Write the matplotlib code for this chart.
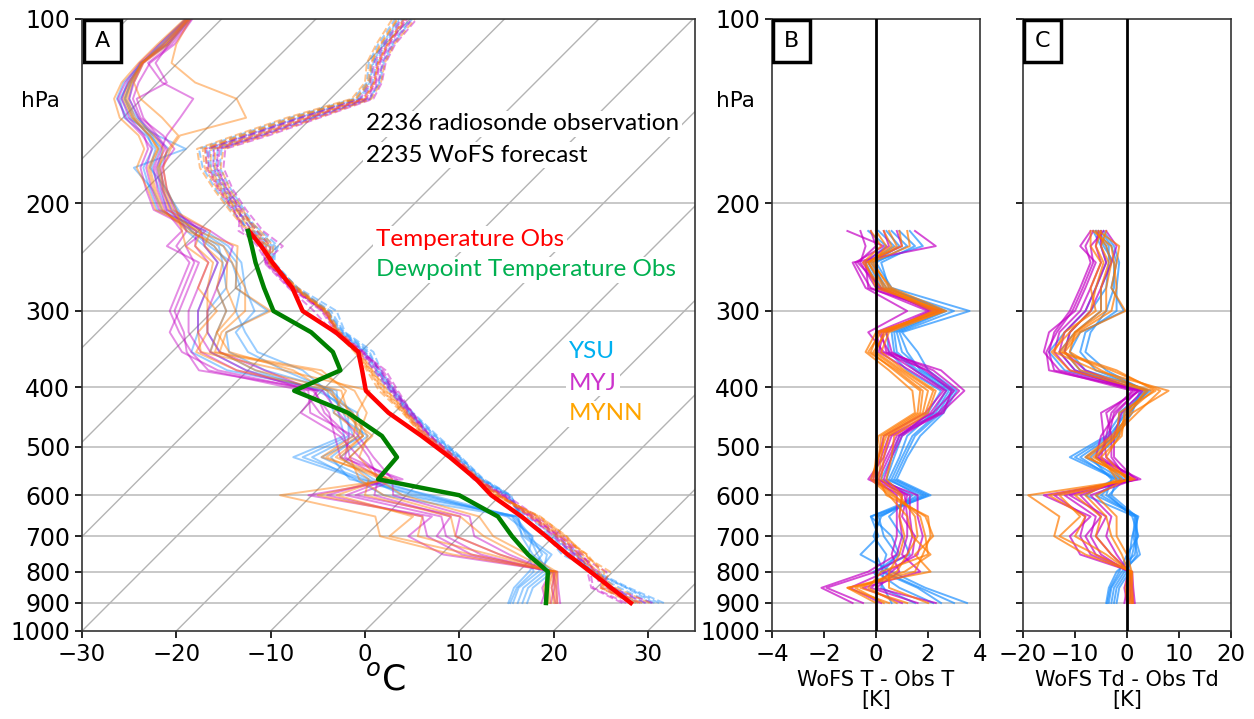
import numpy as np
import matplotlib
matplotlib.use('Agg')
import matplotlib.pyplot as plt
from matplotlib.patches import Rectangle

# ---------------- data ----------------
# pressure levels (hPa) shared by observation and member differences
levels = [900, 850, 800, 750, 700, 650, 600, 565, 520, 480, 440, 405, 375, 350, 325, 300, 275, 250, 235, 222]
# levels above the top of the radiosonde (forecast only)
upper_levels = [205, 190, 175, 163, 155, 145, 135, 127, 118, 110, 100]

# observations, read as positions on the skew-T temperature axis (deg C)
obs_T_skew = [28.2, 26.1, 23.9, 21.5, 19.2, 16.6, 13.4, 11.8, 9.0, 6.0, 2.5, 0.1, -0.3, -0.7, -3.1, -6.6, -7.7, -9.8, -11.0, -12.3]
obs_Td_skew = [19.2, 19.3, 19.4, 17.3, 15.6, 14.1, 10.0, 1.4, 3.4, 1.8, -1.8, -7.5, -2.6, -3.4, -5.7, -9.7, -10.7, -11.6, -12.0, -12.4]

schemes = ['YSU', 'MYJ', 'MYNN']
scheme_colors = {'YSU': '#1e90ff', 'MYJ': '#c400c4', 'MYNN': '#ff7a00'}
label_colors = {'YSU': '#00b0f0', 'MYJ': '#cc33cc', 'MYNN': '#ffa500'}

# WoFS T - Obs T [K] per member
dT_YSU = [
    [3.5, 1.9, 0.6, -0.6, 0.1, -0.2, 2.1, 0.8, 1.2, 1.7, 2.6, 3.1, 2.0, 1.6, 1.0, 3.6, 0.6, 0.0, 1.2, 0.6],
    [3.0, 1.7, 0.3, 0.0, 0.0, 0.0, 1.9, 0.6, 1.0, 1.4, 2.4, 2.9, 1.8, 1.0, 0.8, 2.7, 0.4, -0.2, 1.8, 1.3],
    [2.5, 1.6, 0.2, 0.4, -0.1, 0.2, 1.6, 0.5, 0.9, 1.2, 2.2, 2.7, 1.5, 0.7, 0.6, 2.4, 0.2, -0.3, 0.7, 0.1],
    [2.2, 0.9, 0.0, 0.9, 0.6, -0.2, 1.8, 0.4, 0.7, 1.0, 2.0, 2.5, 1.2, 0.5, 0.4, 2.3, 0.1, -0.4, 0.4, -0.3],
    [0.6, 0.3, -0.1, 1.3, 1.0, 0.5, 1.4, 0.2, 0.6, 0.9, 2.3, 2.8, 1.6, 0.8, 0.7, 2.6, 0.5, 0.2, 1.5, 0.9],
    [1.5, 0.2, 0.3, 0.8, 0.3, 0.1, 2.0, 0.7, 1.1, 1.5, 2.5, 3.0, 1.7, 1.2, 0.9, 3.0, 0.3, -0.1, 0.9, 0.4],
]
dT_MYJ = [
    [-0.9, -2.1, -0.3, 0.8, 1.0, 0.9, 1.0, -0.3, 0.3, 0.6, 2.5, 3.4, 2.5, 0.3, -0.3, 1.2, -0.4, -0.9, 2.3, 1.5],
    [-0.5, -1.9, 0.0, 1.2, 1.4, 1.3, 1.3, -0.2, 0.2, 0.5, 2.2, 3.0, 2.0, 0.2, 0.0, 2.0, -0.2, -0.8, 0.3, -1.1],
    [0.2, -1.0, 0.4, 1.6, 1.8, 1.6, 1.6, 0.0, 0.4, 0.8, 2.6, 2.9, 1.9, 0.6, 0.4, 2.2, 0.0, -0.6, -0.4, -0.6],
    [1.0, -0.5, 1.7, 1.0, 1.2, 1.2, 1.1, 0.1, 0.5, 0.9, 2.1, 2.7, 1.5, 0.4, 0.2, 2.4, 0.1, -0.5, 0.5, 0.3],
    [2.3, 0.0, 0.9, 0.6, 0.8, 0.8, 0.8, -0.1, 0.1, 0.3, 1.9, 2.6, 1.3, 0.1, 0.3, 2.1, 0.2, -0.7, 0.0, -0.2],
    [1.6, -0.2, 0.6, 1.4, 1.5, 1.0, 1.2, 0.3, 0.6, 1.0, 2.4, 3.2, 2.2, 0.5, 0.1, 2.5, -0.3, -0.4, 1.0, 0.8],
]
dT_MYNN = [
    [0.0, -1.1, 2.1, 1.5, 2.2, 1.9, 0.6, -0.1, 0.0, 0.1, 1.5, 1.4, 0.5, -0.4, 0.0, 2.5, 0.4, -0.3, 0.6, 0.3],
    [0.5, -1.1, 1.5, 1.8, 2.1, 2.0, 0.4, 0.1, 0.2, 0.3, 1.7, 1.8, 0.8, -0.3, 0.2, 2.7, 0.6, -0.2, 1.3, 1.2],
    [1.2, -0.6, 0.8, 1.2, 1.6, 1.5, 0.9, 0.2, 0.3, 0.5, 1.9, 2.2, 1.0, 0.0, 0.3, 2.2, 0.2, -0.5, 0.2, -0.2],
    [0.8, -0.3, 0.2, 2.0, 1.9, 1.7, 0.7, 0.0, 0.1, 0.2, 1.6, 1.7, 0.7, -0.2, 0.1, 2.4, 0.3, -0.3, 0.8, 0.5],
    [2.0, 0.5, 0.5, 0.9, 1.1, 0.9, 1.0, 0.4, 0.6, 0.7, 2.0, 2.3, 1.1, 0.2, 0.5, 2.6, 0.0, -0.4, 1.0, 0.9],
    [0.3, -0.8, 1.1, 2.1, 1.4, 1.2, 0.5, -0.2, 0.1, 0.4, 1.8, 2.0, 0.9, -0.1, 0.4, 2.3, 0.5, -0.1, 0.4, 0.0],
]

# WoFS Td - Obs Td [K] per member
dTd_YSU = [
    [-4.0, -3.5, -2.0, 1.5, 2.0, 1.8, -3.0, -2.0, -11.0, -4.0, -1.0, 4.5, -8.0, -11.0, -9.0, -0.6, -3.0, -2.0, -3.0, -5.0],
    [-3.5, -3.0, -1.0, 2.5, 1.5, 2.0, -5.0, -1.5, -10.0, -3.5, 0.0, 3.0, -10.0, -13.0, -10.0, -5.0, -5.0, -3.0, -4.0, -6.0],
    [-3.0, -2.5, -0.5, 2.0, 1.2, 1.5, -8.0, -2.5, -9.0, -3.0, -0.5, 3.8, -12.0, -15.0, -12.0, -8.0, -6.0, -4.0, -5.0, -6.5],
    [-2.5, -2.0, 0.0, 1.0, 1.8, 1.6, -4.0, -3.0, -7.0, -2.5, 0.5, 4.0, -6.0, -9.0, -8.0, -2.0, -2.0, -1.5, -2.5, -4.5],
    [-2.0, -1.5, 0.5, 0.5, 1.0, 2.2, -6.0, -1.0, -8.0, -2.0, 1.0, 2.5, -9.0, -12.0, -11.0, -7.0, -4.0, -3.5, -3.5, -5.5],
    [-3.8, -3.2, -1.5, 0.0, 2.2, 1.0, -3.5, -0.5, -6.0, -1.5, -1.5, 3.5, -4.0, -8.0, -7.0, -4.0, -2.5, -2.5, -4.5, -6.0],
]
dTd_MYJ = [
    [1.5, 1.2, 1.0, -9.0, -11.0, -7.0, -16.0, 2.6, -6.0, -5.0, -2.0, 2.0, -13.0, -16.0, -15.0, -10.0, -8.0, -6.0, -9.0, -7.0],
    [0.5, 0.8, 0.5, -3.0, -6.0, -4.0, -11.0, 2.0, -5.0, -4.0, -3.0, 1.0, -14.0, -15.0, -14.0, -11.0, -9.0, -7.0, -8.0, -6.5],
    [-0.5, 0.0, 0.2, -5.0, -7.0, -6.0, -12.0, 1.0, -4.0, -4.5, -5.0, 2.5, -11.0, -14.0, -13.0, -9.0, -7.0, -5.0, -6.0, -5.5],
    [1.0, 0.5, 0.8, -6.0, -8.0, -5.0, -9.0, 0.0, -3.0, -3.0, -4.0, 1.5, -10.0, -13.0, -12.0, -8.0, -6.0, -4.0, -5.0, -5.0],
    [0.0, -0.5, 0.3, -2.0, -4.0, -3.0, -7.0, 1.5, -2.5, -2.5, -1.0, 3.0, -15.0, -15.5, -13.5, -10.5, -8.5, -6.5, -7.0, -4.5],
    [1.2, 1.0, 0.6, -7.0, -9.0, -8.0, -14.0, 0.5, -5.5, -3.5, -2.5, 2.2, -8.0, -12.0, -11.0, -7.0, -5.0, -3.0, -2.0, -4.0],
]
dTd_MYNN = [
    [1.2, 1.0, 1.0, -8.0, -14.0, -13.0, -19.0, 1.5, -8.0, -3.0, 1.0, 8.0, -6.0, -14.0, -12.0, -6.0, -7.0, -5.0, -7.0, -7.0],
    [0.8, 0.5, 0.8, -6.0, -13.0, -9.0, -13.0, 0.5, -7.5, -2.5, 2.0, 6.4, -3.0, -13.0, -10.0, -4.0, -4.0, -3.0, -4.0, -6.0],
    [0.3, 0.0, 0.5, -3.0, -6.0, -5.0, -10.0, -1.0, -6.0, -2.0, 0.0, 5.0, -9.0, -12.0, -9.0, -0.3, -3.0, -2.0, -1.5, -5.5],
    [0.0, -0.3, 0.3, -1.0, -3.0, -4.0, -8.0, -2.0, -5.0, -1.0, -0.5, 4.0, -11.0, -14.5, -11.0, -7.0, -6.0, -4.5, -6.0, -5.0],
    [1.0, 0.8, 0.9, 0.0, -2.0, -2.0, -6.0, 0.0, -4.0, -1.5, 0.5, 3.5, -5.0, -11.0, -10.0, -5.0, -5.0, -3.5, -5.0, -4.0],
    [0.5, 0.2, 0.6, -4.0, -10.0, -8.0, -15.0, 1.0, -6.5, -2.0, -1.5, 5.5, -2.0, -12.5, -9.5, -3.0, -2.0, -2.5, -3.0, -6.5],
]

# forecast temperature above the radiosonde top (skew-T axis position, deg C)
upT_YSU = [
    [-13.0, -14.6, -15.8, -15.6, -11.0, -5.5, 0.6, 1.5, 1.8, 2.8, 4.8],
    [-13.8, -15.2, -16.5, -16.8, -12.5, -7.0, -0.6, 0.5, 0.9, 1.8, 3.6],
    [-14.2, -15.8, -17.2, -17.6, -13.5, -8.0, -1.2, 0.2, 0.4, 1.4, 3.2],
    [-13.4, -14.8, -16.0, -16.1, -12.2, -6.8, -0.4, 0.8, 1.2, 2.1, 4.0],
    [-12.8, -14.2, -15.4, -15.2, -11.2, -5.6, 0.4, 1.6, 2.0, 3.0, 5.0],
    [-13.6, -15.0, -16.3, -16.5, -12.8, -7.2, -0.8, 0.4, 0.8, 1.9, 3.7],
]
upT_MYJ = [
    [-12.6, -14.0, -15.0, -14.8, -10.2, -4.8, 0.9, 1.8, 2.2, 3.2, 5.5],
    [-13.2, -14.6, -15.7, -15.6, -11.0, -5.8, 0.2, 1.2, 1.6, 2.6, 4.5],
    [-13.9, -15.4, -16.6, -16.6, -12.3, -6.6, -0.2, 0.9, 1.3, 2.3, 4.2],
    [-13.5, -14.9, -16.1, -16.0, -11.6, -6.0, 0.1, 1.1, 1.5, 2.5, 4.4],
    [-14.0, -15.5, -16.8, -16.9, -12.6, -7.0, -0.5, 0.6, 1.0, 2.0, 3.9],
    [-13.1, -14.5, -15.6, -15.4, -10.8, -5.2, 0.5, 1.4, 1.9, 2.9, 5.0],
]
upT_MYNN = [
    [-13.7, -15.3, -16.7, -17.0, -13.0, -7.5, -1.0, 0.3, 0.6, 1.6, 3.4],
    [-13.3, -14.7, -15.9, -15.9, -11.4, -6.0, 0.0, 1.0, 1.4, 2.4, 4.3],
    [-14.4, -16.0, -17.5, -17.8, -13.8, -8.3, -1.4, 0.0, 0.2, 1.2, 2.9],
    [-12.9, -14.3, -15.3, -15.0, -10.5, -5.0, 0.7, 1.7, 2.1, 3.1, 5.3],
    [-13.6, -15.1, -16.4, -16.3, -11.8, -6.3, -0.1, 1.0, 1.4, 2.4, 4.1],
    [-14.1, -15.6, -17.0, -17.2, -13.2, -7.7, -0.9, 0.5, 0.7, 1.7, 3.5],
]
# forecast dewpoint above the radiosonde top
upTd_YSU = [
    [-20.5, -21.5, -22.0, -21.5, -22.8, -24.8, -25.8, -25.2, -23.8, -21.0, -18.6],
    [-21.5, -22.5, -24.5, -19.0, -22.0, -25.2, -26.3, -25.6, -23.6, -21.4, -18.8],
    [-20.0, -21.0, -22.8, -22.2, -23.2, -25.5, -26.0, -25.0, -23.6, -21.8, -19.0],
    [-22.0, -22.8, -23.5, -22.5, -23.0, -24.5, -25.5, -24.8, -23.7, -21.2, -18.7],
    [-21.0, -21.8, -22.6, -21.8, -22.6, -24.0, -25.0, -24.6, -23.6, -21.6, -18.9],
    [-19.8, -21.2, -21.8, -20.8, -22.4, -24.2, -25.4, -24.9, -23.8, -20.8, -18.5],
]
upTd_MYJ = [
    [-21.2, -22.0, -22.4, -21.6, -21.0, -19.6, -18.2, -21.5, -23.0, -20.5, -18.4],
    [-20.6, -21.4, -21.6, -20.2, -21.4, -23.8, -24.6, -24.0, -22.8, -20.2, -18.3],
    [-22.4, -23.2, -23.8, -23.0, -23.4, -25.0, -25.8, -25.1, -23.6, -21.4, -18.8],
    [-20.2, -21.0, -21.4, -21.0, -22.0, -23.5, -24.2, -21.0, -22.2, -20.8, -18.6],
    [-21.8, -22.6, -23.2, -22.6, -23.6, -25.4, -26.2, -25.4, -23.9, -21.8, -19.0],
    [-21.0, -21.6, -22.2, -21.2, -22.2, -24.0, -25.0, -24.5, -23.5, -21.0, -18.7],
]
upTd_MYNN = [
    [-20.0, -21.0, -21.4, -20.6, -19.6, -12.6, -13.6, -18.0, -20.5, -20.0, -18.5],
    [-21.6, -22.4, -23.0, -22.0, -22.8, -24.6, -25.4, -24.8, -23.6, -21.2, -18.8],
    [-20.8, -21.4, -22.0, -20.8, -19.8, -21.5, -23.8, -24.5, -23.5, -20.8, -18.6],
    [-22.2, -23.0, -24.2, -23.4, -24.0, -26.0, -26.6, -25.8, -24.0, -22.0, -19.1],
    [-20.4, -21.2, -21.8, -21.4, -22.4, -24.4, -25.2, -24.7, -23.7, -21.1, -18.7],
    [-21.4, -22.2, -22.8, -21.9, -22.9, -24.7, -25.6, -25.0, -23.7, -21.5, -18.9],
]

dT = {'YSU': dT_YSU, 'MYJ': dT_MYJ, 'MYNN': dT_MYNN}
dTd = {'YSU': dTd_YSU, 'MYJ': dTd_MYJ, 'MYNN': dTd_MYNN}
upT = {'YSU': upT_YSU, 'MYJ': upT_MYJ, 'MYNN': upT_MYNN}
upTd = {'YSU': upTd_YSU, 'MYJ': upTd_MYJ, 'MYNN': upTd_MYNN}

p_ticks = [100, 200, 300, 400, 500, 600, 700, 800, 900, 1000]
SKEW = 64.8  # deg C per decade of pressure on the skewed axis

# ---------------- figure ----------------
W, H = 1254, 719
fig = plt.figure(figsize=(W / 100, H / 100), dpi=100)


def fx(x):
    return x / W


def fy(y):
    return 1 - y / H


bottom = fy(631)
height = (631 - 19) / H
axA = fig.add_axes([fx(82), bottom, (695 - 82) / W, height])
axB = fig.add_axes([fx(772), bottom, (980 - 772) / W, height])
axC = fig.add_axes([fx(1023), bottom, (1231 - 1023) / W, height])

grid_col = '#c4c4c4'
for ax in (axA, axB, axC):
    ax.set_yscale('log')
    ax.set_ylim(1000, 100)
    ax.set_yticks(p_ticks)
    ax.set_yticks([], minor=True)
    ax.set_yticklabels([str(p) for p in p_ticks])
    ax.tick_params(axis='y', labelsize=17, length=5, width=1.2)
    ax.tick_params(axis='x', labelsize=16.5, length=5, width=1.2)
    for s in ax.spines.values():
        s.set_linewidth(1.2)
        s.set_color('#333333')
    for p in p_ticks[1:-1]:
        ax.axhline(p, color=grid_col, lw=1.3, zorder=0)

# --- panel A ---
axA.set_xlim(-30, 35)
axA.set_xticks([-30, -20, -10, 0, 10, 20, 30])
pp = np.logspace(2, 3, 50)
for t0 in range(-130, 50, 10):
    axA.plot(t0 + SKEW * np.log10(1000 / pp), pp, color='#b4b4b4', lw=1.0, zorder=0.5)

all_levels = levels + upper_levels
for sch in schemes:
    col = scheme_colors[sch]
    for m in range(6):
        td = [o + d for o, d in zip(obs_Td_skew, dTd[sch][m])] + upTd[sch][m]
        axA.plot(td, all_levels, color=col, lw=1.4, alpha=0.45, zorder=2)
for sch in schemes:
    col = scheme_colors[sch]
    for m in range(6):
        t = [o + d for o, d in zip(obs_T_skew, dT[sch][m])] + upT[sch][m]
        axA.plot(t, all_levels, color=col, lw=1.4, alpha=0.45, ls='--', zorder=2)
axA.plot(obs_T_skew, levels, color='red', lw=3.2, zorder=4)
axA.plot(obs_Td_skew, levels, color='green', lw=3.2, zorder=4)

fig.text(fx(385), fy(680), r'$^o$C', fontsize=25, ha='center', va='center')
fig.text(fx(40), fy(101), 'hPa', fontsize=15.5, ha='center', va='center')
fig.text(fx(735), fy(101), 'hPa', fontsize=15.5, ha='center', va='center')

bb = dict(facecolor='white', edgecolor='none', pad=2)
tfont = ['Lato', 'DejaVu Sans']
fig.text(fx(366), fy(124), '2236 radiosonde observation', fontsize=17.5, family=tfont,
         va='center', ha='left', bbox=bb, zorder=5)
fig.text(fx(366), fy(155), '2235 WoFS forecast', fontsize=17.5, family=tfont,
         va='center', ha='left', bbox=bb, zorder=5)
fig.text(fx(376), fy(239), 'Temperature Obs', fontsize=17.5, family=tfont, color='#ff0000',
         va='center', ha='left', bbox=bb, zorder=5)
fig.text(fx(376), fy(270), 'Dewpoint Temperature Obs', fontsize=17.5, family=tfont, color='#00b050',
         va='center', ha='left', bbox=bb, zorder=5)
for i, sch in enumerate(schemes):
    fig.text(fx(569), fy(352 + 31 * i), sch, fontsize=17.5, family=tfont, color=label_colors[sch],
             va='center', ha='left', bbox=bb, zorder=5)

# --- panel B ---
axB.set_xlim(-4, 4)
axB.set_xticks([-4, -2, 0, 2, 4])
axB.axvline(0, color='black', lw=2, zorder=3)
for sch in schemes:
    for m in range(6):
        axB.plot(dT[sch][m], levels, color=scheme_colors[sch], lw=1.4, alpha=0.7, zorder=2)
axB.set_xlabel('WoFS T - Obs T\n[K]', fontsize=15, labelpad=3, linespacing=1.0)

# --- panel C ---
axC.set_xlim(-20, 20)
axC.set_xticks([-20, -10, 0, 10, 20])
axC.set_yticklabels([])
axC.axvline(0, color='black', lw=2, zorder=3)
for sch in schemes:
    for m in range(6):
        axC.plot(dTd[sch][m], levels, color=scheme_colors[sch], lw=1.4, alpha=0.7, zorder=2)
axC.set_xlabel('WoFS Td - Obs Td\n[K]', fontsize=15, labelpad=3, linespacing=1.0)

# panel letters
for ax, letter, wpx in ((axA, 'A', 613), (axB, 'B', 208), (axC, 'C', 208)):
    w = 37 / wpx
    h = 42 / 612
    ax.add_patch(Rectangle((0.003, 1 - h - 0.002), w, h, transform=ax.transAxes,
                           facecolor='white', edgecolor='black', lw=2.5, zorder=6))
    ax.text(0.003 + w / 2, 1 - h / 2 - 0.002, letter, transform=ax.transAxes,
            fontsize=16, ha='center', va='center', zorder=7)

fig.savefig('out.png', dpi=100)
